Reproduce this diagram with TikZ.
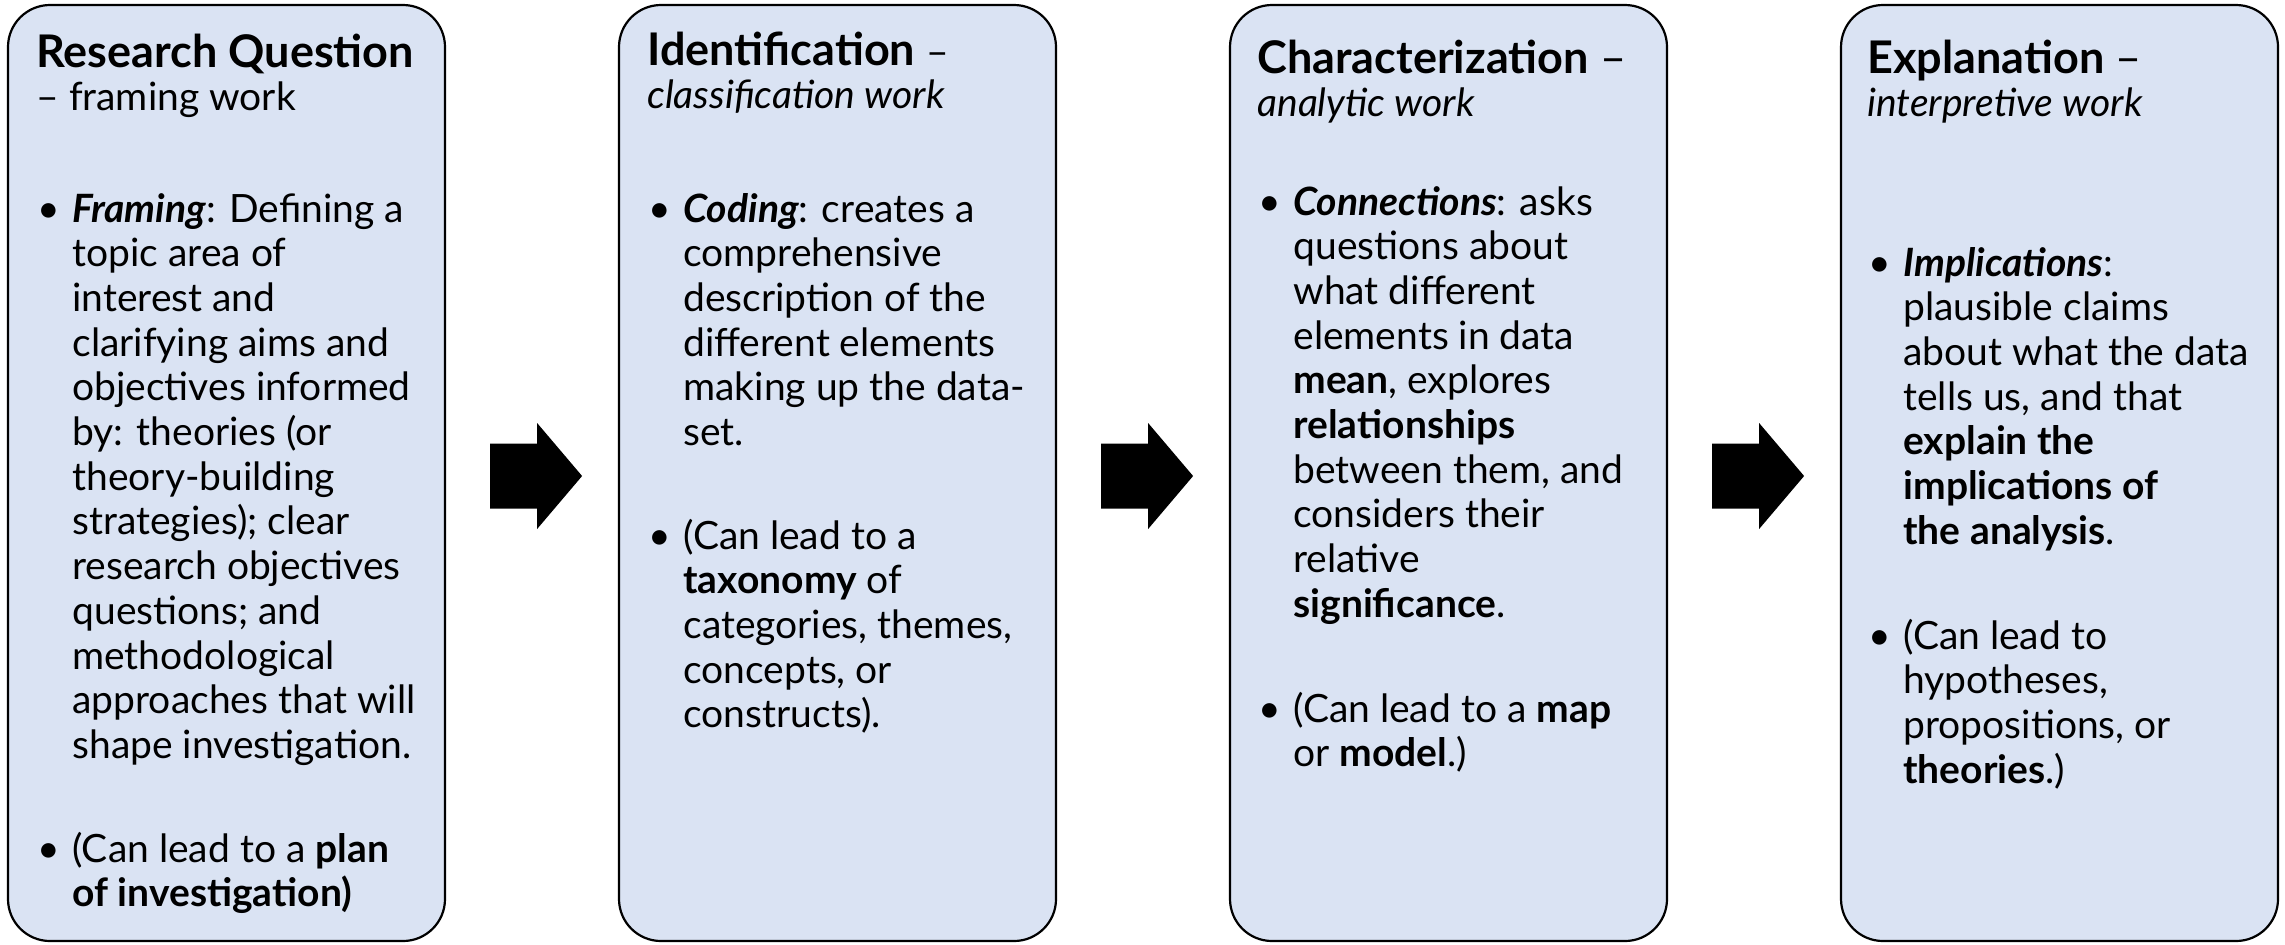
\documentclass[tikz,border=0pt]{standalone}
\usepackage{fontspec}
\setmainfont{Lato}
\usetikzlibrary{calc}
\definecolor{boxfill}{HTML}{DAE3F3}
\tikzset{
  box/.style={draw=black, line width=1.1pt, fill=boxfill, rounded corners=21pt,
    minimum width=218.5pt, minimum height=468pt, inner sep=0pt},
  txt/.style={anchor=base west, inner sep=0pt, font=\fontsize{19.5}{22.35}\selectfont},
  ttl/.style={anchor=base west, inner sep=0pt, font=\fontsize{22.5}{21.5}\selectfont},
  blockarrow/.style={fill=black, draw=none},
}
\newcommand{\blkarrow}[1]{%
  \fill[blockarrow] ($(#1.east)+(44,-29.5)$) -- ($(#1.east)+(91,-29.5)$) -- ($(#1.east)+(91,-50)$)
    -- ($(#1.east)+(136,3)$) -- ($(#1.east)+(91,56)$) -- ($(#1.east)+(91,35.5)$)
    -- ($(#1.east)+(44,35.5)$) -- cycle;}
\newcommand{\tb}[1]{\parbox[t]{200pt}{\raggedright #1}}
\newcommand{\sub}{\fontsize{19.5}{21.5}\selectfont}
\begin{document}
\begin{tikzpicture}[x=0.5pt,y=-0.5pt]
\useasboundingbox (0,0) rectangle (2285,944);
% boxes
\node[box] (b1) at (226.5,473) {};
\node[box] (b2) at (837.5,473) {};
\node[box] (b3) at (1448.5,473) {};
\node[box] (b4) at (2059.5,473) {};
% arrows
\blkarrow{b1}
\blkarrow{b2}
\blkarrow{b3}
% box 1
\node[ttl] (h1) at (36,67) {\tb{\textbf{Research Question}\\{\sub – framing work}}};
\node[txt] (d1a) at (37,222) {•};
\node[txt] (t1a) at (72,222) {\tb{\textbf{\textit{Framing}}: Defining a\\topic area of\\interest and\\clarifying aims and\\objectives informed\\by: theories (or\\theory-building\\strategies); clear\\research objectives\\questions; and\\methodological\\approaches that will\\shape investigation.}};
\node[txt] (d1b) at (37,862) {•};
\node[txt] (t1b) at (72,862) {\tb{(Can lead to a \textbf{plan}\\\textbf{of investigation)}}};
% box 2
\node[ttl] (h2) at (647,65) {\tb{\textbf{Identification} {\sub –}\\{\sub\textit{classification work}}}};
\node[txt] (d2a) at (648,222) {•};
\node[txt] (t2a) at (683,222) {\tb{\textbf{\textit{Coding}}: creates a\\comprehensive\\description of the\\different elements\\making up the data-\\set.}};
\node[txt] (d2b) at (648,549) {•};
\node[txt] (t2b) at (683,549) {\tb{(Can lead to a\\\textbf{taxonomy} of\\categories, themes,\\concepts, or\\constructs).}};
% box 3
\node[ttl] (h3) at (1257,73) {\tb{\textbf{Characterization} –\\{\sub\textit{analytic work}}}};
\node[txt] (d3a) at (1258,215) {•};
\node[txt] (t3a) at (1293,215) {\tb{\textbf{\textit{Connections}}: asks\\questions about\\what different\\elements in data\\\textbf{mean}, explores\\\textbf{relationships}\\between them, and\\considers their\\relative\\\textbf{significance}.}};
\node[txt] (d3b) at (1258,722) {•};
\node[txt] (t3b) at (1293,722) {\tb{(Can lead to a \textbf{map}\\or \textbf{model}.)}};
% box 4
\node[ttl] (h4) at (1867,73) {\tb{\textbf{Explanation} –\\{\sub\textit{interpretive work}}}};
\node[txt] (d4a) at (1868,276) {•};
\node[txt] (t4a) at (1903,276) {\tb{\textbf{\textit{Implications}}:\\plausible claims\\about what the data\\tells us, and that\\\textbf{explain the}\\\textbf{implications of}\\\textbf{the analysis}.}};
\node[txt] (d4b) at (1868,649) {•};
\node[txt] (t4b) at (1903,649) {\tb{(Can lead to\\hypotheses,\\propositions, or\\\textbf{theories}.)}};
\end{tikzpicture}
\end{document}
